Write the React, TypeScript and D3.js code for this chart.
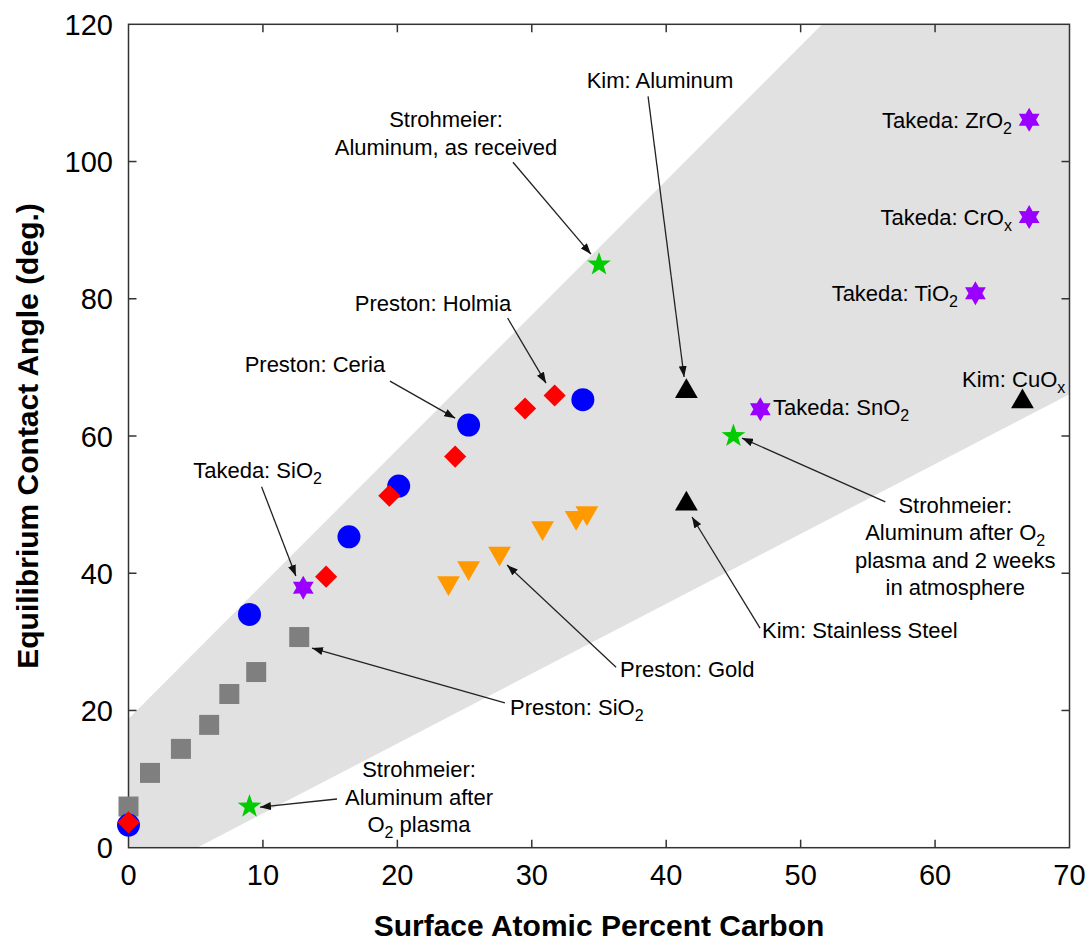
import React from 'react';
import * as d3 from 'd3';

// surface atomic % carbon vs. equilibrium contact angle
const prestonSiO2 = [[0, 6.0], [1.6, 10.9], [3.9, 14.4], [6.0, 17.9], [7.5, 22.4], [9.5, 25.6], [12.7, 30.7]];
const prestonCeria = [[0, 3.3], [9.0, 34.0], [16.4, 45.3], [20.1, 52.7], [25.3, 61.6], [33.8, 65.3]];
const prestonHolmia = [[0, 3.7], [14.7, 39.5], [19.4, 51.3], [24.3, 57.0], [29.5, 64.0], [31.7, 65.9]];
const prestonGold = [[23.8, 38.6], [25.3, 40.8], [27.6, 42.9], [30.8, 46.6], [33.3, 48.1], [34.1, 48.8]];
const kim = [[41.5, 66.5], [41.5, 50.1], [66.5, 65.0]];
const strohmeier = [[9.0, 6.0], [35.0, 85.0], [45.0, 60.0]];
const takeda = [[13.0, 37.9], [47.0, 63.9], [63.0, 80.8], [67.0, 91.9], [67.0, 106.1]];

// shaded band (upper and lower edge)
const bandUpper = [[0, 18.8], [51.6, 120]];
const bandLower = [[5.1, 0], [70, 66.1]];

const xTicks = [0, 10, 20, 30, 40, 50, 60, 70];
const yTicks = [0, 20, 40, 60, 80, 100, 120];

// labels: {..} = subscript. pos = first baseline (data units), arrow from -> to
const notes = [
  { lines: ['Kim: Aluminum'], anchor: 'middle', pos: [39.54, 110.7], arrow: [[38.65, 109.5], [41.33, 68.6]] },
  { lines: ['Strohmeier:', 'Aluminum, as received'], anchor: 'middle', pos: [23.62, 105.0], arrow: [[28.6, 99.9], [34.4, 86.5]] },
  { lines: ['Takeda: ZrO{2}'], anchor: 'end', pos: [65.72, 104.9] },
  { lines: ['Takeda: CrO{x}'], anchor: 'end', pos: [65.72, 90.7] },
  { lines: ['Takeda: TiO{2}'], anchor: 'end', pos: [61.7, 79.7] },
  { lines: ['Preston: Holmia'], anchor: 'middle', pos: [22.65, 78.2], arrow: [[28.2, 77.2], [31.06, 67.7]] },
  { lines: ['Preston: Ceria'], anchor: 'middle', pos: [13.87, 69.4], arrow: [[19.45, 68.0], [24.3, 62.6]] },
  { lines: ['Kim: CuO{x}'], anchor: 'start', pos: [62.0, 67.1] },
  { lines: ['Takeda: SnO{2}'], anchor: 'start', pos: [47.95, 63.1] },
  {
    lines: ['Strohmeier:', 'Aluminum after O{2}', 'plasma and 2 weeks', 'in atmosphere'],
    anchor: 'middle', pos: [61.5, 48.8], arrow: [[56.3, 50.4], [45.64, 59.7]],
  },
  { lines: ['Takeda: SiO{2}'], anchor: 'middle', pos: [9.6, 53.9], arrow: [[9.9, 52.6], [12.45, 39.6]] },
  { lines: ['Kim: Stainless Steel'], anchor: 'start', pos: [47.13, 30.6], arrow: [[46.98, 32.0], [41.92, 48.2]] },
  { lines: ['Preston: Gold'], anchor: 'start', pos: [36.56, 24.9], arrow: [[36.27, 26.3], [28.16, 41.2]] },
  { lines: ['Preston: SiO{2}'], anchor: 'start', pos: [28.38, 19.35], arrow: [[28.0, 21.1], [13.65, 29.1]] },
  { lines: ['Strohmeier:', 'Aluminum after', 'O{2} plasma'], anchor: 'middle', pos: [21.61, 10.3], arrow: [[15.51, 7.1], [9.78, 5.9]] },
];

const W = 1088;
const H = 942;
const FONT = '"Liberation Sans", Arial, sans-serif';

const x = d3.scaleLinear().domain([0, 70]).range([128.5, 1069.5]);
const y = d3.scaleLinear().domain([0, 120]).range([847.7, 24.3]);

const starPath = (n, R, r) => {
  const pts = d3.range(n * 2).map(i => {
    const a = (Math.PI * i) / n - Math.PI / 2;
    const rad = i % 2 ? r : R;
    return [Math.cos(a) * rad, Math.sin(a) * rad];
  });
  return 'M' + pts.map(p => p.join(',')).join('L') + 'Z';
};

const square = d3.symbol(d3.symbolSquare, 400)();
const circle = d3.symbol(d3.symbolCircle, 415)();
const diamond = d3.symbol(d3.symbolSquare, 245)();
const triangle = d3.symbol(d3.symbolTriangle, 225)();
const star5 = starPath(5, 12.5, 5);
const star6 = starPath(6, 12, 6.9);

const renderLine = (str, key, lx, ly, anchor) => {
  const parts = str.split(/(\{[^}]*\})/).filter(s => s);
  let shifted = false;
  return (
    <text key={key} x={lx} y={ly} textAnchor={anchor} fontSize={22} fontFamily={FONT} fill="#000">
      {parts.map((p, i) => {
        if (p.startsWith('{')) {
          shifted = true;
          return <tspan key={i} dy={6} fontSize={16}>{p.slice(1, -1)}</tspan>;
        }
        const dy = shifted ? -6 : 0;
        shifted = false;
        return <tspan key={i} dy={dy}>{p}</tspan>;
      })}
    </text>
  );
};

const Markers = ({ data, d, fill, rotate = 0 }) => (
  <g>
    {data.map((p, i) => (
      <path key={i} d={d} fill={fill} transform={`translate(${x(p[0])},${y(p[1])}) rotate(${rotate})`} />
    ))}
  </g>
);

export default function App() {
  const band = [[0, 0], [0, bandUpper[0][1]], bandUpper[1], [70, 120], bandLower[1], bandLower[0]];
  const bandLine = d3.line().x(d => x(d[0])).y(d => y(d[1]));
  const [x0, x1] = x.range();
  const [y0, y1] = y.range();
  return (
    <div style={{ position: 'absolute', left: 0, top: 0 }}>
      <svg width={W} height={H} style={{ display: 'block', background: '#fff' }}>
        <defs>
          <marker id="ah" markerUnits="userSpaceOnUse" markerWidth={11} markerHeight={8} refX={11} refY={4} orient="auto">
            <path d="M0,0L11,4L0,8Z" fill="#111" />
          </marker>
        </defs>
        <path d={bandLine(band) + 'Z'} fill="#e1e1e1" />

        {/* frame + ticks */}
        <rect x={x0} y={y1} width={x1 - x0} height={y0 - y1} fill="none" stroke="#333" strokeWidth={1.5} />
        {xTicks.slice(1, -1).map(t => (
          <g key={t} stroke="#333" strokeWidth={1.5}>
            <line x1={x(t)} x2={x(t)} y1={y0} y2={y0 - 8} />
            <line x1={x(t)} x2={x(t)} y1={y1} y2={y1 + 8} />
          </g>
        ))}
        {yTicks.slice(1, -1).map(t => (
          <g key={t} stroke="#333" strokeWidth={1.5}>
            <line x1={x0} x2={x0 + 8} y1={y(t)} y2={y(t)} />
            <line x1={x1} x2={x1 - 8} y1={y(t)} y2={y(t)} />
          </g>
        ))}
        {xTicks.map(t => (
          <text key={t} x={x(t)} y={885} textAnchor="middle" fontSize={29} fontFamily={FONT} fill="#000">{t}</text>
        ))}
        {yTicks.map(t => (
          <text key={t} x={113} y={y(t) + 10.5} textAnchor="end" fontSize={29} fontFamily={FONT} fill="#000">{t}</text>
        ))}
        <text x={(x0 + x1) / 2} y={936} textAnchor="middle" fontSize={30} fontWeight="bold" fontFamily={FONT} fill="#000">
          Surface Atomic  Percent Carbon
        </text>
        <text transform={`translate(38,${(y0 + y1) / 2}) rotate(-90)`} textAnchor="middle" fontSize={30} fontWeight="bold" fontFamily={FONT} fill="#000">
          Equilibrium Contact Angle (deg.)
        </text>

        {/* data */}
        <Markers data={prestonSiO2} d={square} fill="#7f7f7f" />
        <Markers data={prestonCeria} d={circle} fill="#0000ff" />
        <Markers data={prestonHolmia} d={diamond} fill="#ff0000" rotate={45} />
        <Markers data={prestonGold} d={triangle} fill="#ff9900" rotate={180} />
        <Markers data={kim} d={triangle} fill="#000" />
        <Markers data={strohmeier} d={star5} fill="#00cc00" />
        <Markers data={takeda} d={star6} fill="#9900ff" />

        {/* annotations */}
        {notes.map((n, i) => (
          <g key={i}>
            {n.arrow && (
              <line
                x1={x(n.arrow[0][0])} y1={y(n.arrow[0][1])}
                x2={x(n.arrow[1][0])} y2={y(n.arrow[1][1])}
                stroke="#222" strokeWidth={1.3} markerEnd="url(#ah)"
              />
            )}
            {n.lines.map((l, j) => renderLine(l, j, x(n.pos[0]), y(n.pos[1]) + j * 27.5, n.anchor))}
          </g>
        ))}
      </svg>
    </div>
  );
}
